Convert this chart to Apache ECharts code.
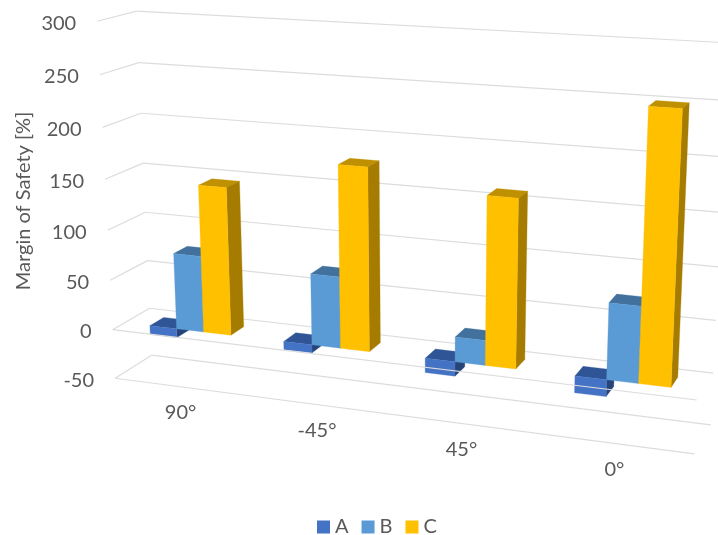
<!DOCTYPE html>
<html>
<head>
<meta charset="utf-8">
<style>html,body{margin:0;padding:0;background:#fff}#chart{width:718px;height:535px}</style>
<script src="https://cdn.jsdelivr.net/npm/echarts@6/dist/echarts.min.js"></script>
</head>
<body>
<div id="chart"></div>
<script>
// Chart data
const categories = ['90°', '-45°', '45°', '0°'];
const seriesA = [-9, -8, -14, -16];
const seriesB = [76, 70, 24, 72];
const seriesC = [146, 177, 160, 250];
const valueTicks = [-50, 0, 50, 100, 150, 200, 250, 300];
const axisTitle = 'Margin of Safety [%]';

// Faces of each bar: front, top and right side
const faceColors = {
  A: { front: '#4472C4', top: '#2F5597', side: '#264478' },
  B: { front: '#5B9BD5', top: '#41719C', side: '#3B6A93' },
  C: { front: '#FFC000', top: '#BF9000', side: '#A67C00' }
};
const inkColor = '#595959';
const gridColor = '#DCDCDC';
const fontName = 'Lato';

const VALUE_MIN = -50;
const VALUE_MAX = 300;
const GAP_RATIO = 1.9;        // gap between bar groups, in bar widths
const DEPTH_FRONT = 0.32;     // bars occupy this slice of the chart depth
const DEPTH_BACK = 0.70;

// Known positions of the chart box: [across 0-1, value, depth 0-1, screen x, screen y]
const cameraAnchors = [
  [0, -50, 0, 115, 378], [0, 0, 0, 113, 330], [0, 300, 0, 97, 21],
  [0, -50, 1, 152, 355], [0, 0, 1, 149, 308], [0, 100, 1, 145, 213], [0, 300, 1, 137, 11],
  [1, -50, 1, 711, 425], [1, 0, 1, 713, 373], [1, 50, 1, 716, 320], [1, 300, 1, 729, 43],
  [1, -50, 0, 695, 454], [1, 0, 0, 696, 400]
];

// Least-squares fit of a projective camera to the anchors
function fitCamera(anchors) {
  const rows = [];
  anchors.forEach(([u, value, d, X, Y]) => {
    const v = (value - VALUE_MIN) / (VALUE_MAX - VALUE_MIN);
    rows.push([1, u, v, d, 0, 0, 0, 0, -X * u, -X * v, -X * d, X]);
    rows.push([0, 0, 0, 0, 1, u, v, d, -Y * u, -Y * v, -Y * d, Y]);
  });
  const n = 11;
  const m = [];
  for (let i = 0; i < n; i++) {
    m[i] = [];
    for (let j = 0; j <= n; j++) {
      m[i][j] = rows.reduce((sum, r) => sum + r[i] * r[j], 0);
    }
  }
  for (let i = 0; i < n; i++) {
    let p = i;
    for (let k = i + 1; k < n; k++) if (Math.abs(m[k][i]) > Math.abs(m[p][i])) p = k;
    [m[i], m[p]] = [m[p], m[i]];
    for (let k = 0; k < n; k++) {
      if (k === i) continue;
      const f = m[k][i] / m[i][i];
      for (let j = i; j <= n; j++) m[k][j] -= f * m[i][j];
    }
  }
  return m.map((r, i) => r[n] / r[i]);
}
const cam = fitCamera(cameraAnchors);

function project(u, v, d) {
  const w = 1 + cam[8] * u + cam[9] * v + cam[10] * d;
  return [
    (cam[0] + cam[1] * u + cam[2] * v + cam[3] * d) / w,
    (cam[4] + cam[5] * u + cam[6] * v + cam[7] * d) / w
  ];
}

// Turn a category/value pair into box fractions through the hidden axes
function boxPoint(api, params, catIndex, value, bandOffset) {
  const cs = params.coordSys;
  const pt = api.coord([catIndex, value]);
  const band = api.size([1, 0])[0];
  return [
    (pt[0] + (bandOffset || 0) * band - cs.x) / cs.width,
    (cs.y + cs.height - pt[1]) / cs.height
  ];
}

function polygon(points, fill) {
  return { type: 'polygon', shape: { points }, style: { fill, stroke: fill, lineWidth: 0.3 } };
}
function segment(a, b) {
  return {
    type: 'line',
    shape: { x1: a[0], y1: a[1], x2: b[0], y2: b[1] },
    style: { stroke: gridColor, lineWidth: 1.2, fill: null }
  };
}
function label(text, x, y, align) {
  return {
    type: 'text',
    style: { text, x, y, align, verticalAlign: 'middle', fill: inkColor, font: '20px ' + fontName }
  };
}

// Back wall, side wall and tick label for one value level
function renderLevel(params, api) {
  const value = api.value(1);
  const v = boxPoint(api, params, 0, value)[1];
  const corner = project(0, v, 0);
  const children = [
    segment(corner, project(0, v, 1)),
    segment(project(0, v, 1), project(1, v, 1)),
    label(String(value), corner[0] - 21, corner[1] + 2, 'right')
  ];
  if (value === VALUE_MIN) children.push(segment(corner, project(1, v, 0)));
  return { type: 'group', children };
}

// The front edge of the zero plane passes over the negative bars
function renderZeroEdge(params, api) {
  const v = boxPoint(api, params, 0, 0)[1];
  return segment(project(0, v, 0), project(1, v, 0));
}

function renderCategoryLabel(params, api) {
  const i = api.value(0);
  const [u, v] = boxPoint(api, params, i, VALUE_MIN);
  const p = project(u, v, 0);
  return label(categories[i], p[0], p[1] + 26, 'center');
}

function barRenderer(seriesIndex, colors) {
  return function (params, api) {
    const cat = api.value(0);
    const value = api.value(1);
    const unit = 1 / (3 + GAP_RATIO);
    const left = unit * (GAP_RATIO / 2 + seriesIndex) - 0.5;
    const [u0, vBase] = boxPoint(api, params, cat, 0, left);
    const [u1, vEnd] = boxPoint(api, params, cat, value, left + unit);
    const vTop = Math.max(vBase, vEnd);
    const vBot = Math.min(vBase, vEnd);
    const d0 = DEPTH_FRONT, d1 = DEPTH_BACK;
    return {
      type: 'group',
      children: [
        polygon([project(u0, vTop, d0), project(u1, vTop, d0), project(u1, vTop, d1), project(u0, vTop, d1)], colors.top),
        polygon([project(u1, vTop, d0), project(u1, vTop, d1), project(u1, vBot, d1), project(u1, vBot, d0)], colors.side),
        polygon([project(u0, vTop, d0), project(u1, vTop, d0), project(u1, vBot, d0), project(u0, vBot, d0)], colors.front)
      ]
    };
  };
}

function barSeries(name, values, index) {
  return {
    name,
    type: 'custom',
    coordinateSystem: 'cartesian2d',
    clip: false,
    itemStyle: { color: faceColors[name].front },
    data: values.map((val, i) => [i, val]),
    encode: { x: 0, y: 1 },
    renderItem: barRenderer(index, faceColors[name])
  };
}

function frameSeries(name, data, renderItem) {
  return {
    name, type: 'custom', coordinateSystem: 'cartesian2d', clip: false,
    silent: true, data, encode: { x: 0, y: 1 }, renderItem
  };
}

const chart = echarts.init(document.getElementById('chart'), null, { renderer: 'canvas' });
chart.setOption({
  animation: false,
  backgroundColor: '#ffffff',
  grid: { left: 100, right: 100, top: 50, bottom: 100 },
  xAxis: { type: 'category', data: categories, show: false },
  yAxis: { type: 'value', min: VALUE_MIN, max: VALUE_MAX, show: false },
  legend: {
    data: ['A', 'B', 'C'],
    left: 312,
    top: 512,
    icon: 'rect',
    itemWidth: 13,
    itemHeight: 13,
    itemGap: 13,
    selectedMode: false,
    textStyle: { color: inkColor, fontFamily: fontName, fontSize: 20 }
  },
  graphic: [{
    type: 'text',
    x: 24,
    y: 201,
    rotation: Math.PI / 2,
    style: {
      text: axisTitle, align: 'center', verticalAlign: 'middle',
      fill: inkColor, font: '20px ' + fontName
    }
  }],
  series: [
    frameSeries('levels', valueTicks.map(t => [0, t]), renderLevel),
    frameSeries('categoryLabels', categories.map((c, i) => [i, VALUE_MIN]), renderCategoryLabel),
    barSeries('A', seriesA, 0),
    frameSeries('zeroEdge', [[0, 0]], renderZeroEdge),
    barSeries('B', seriesB, 1),
    barSeries('C', seriesC, 2)
  ]
});
</script>
</body>
</html>
